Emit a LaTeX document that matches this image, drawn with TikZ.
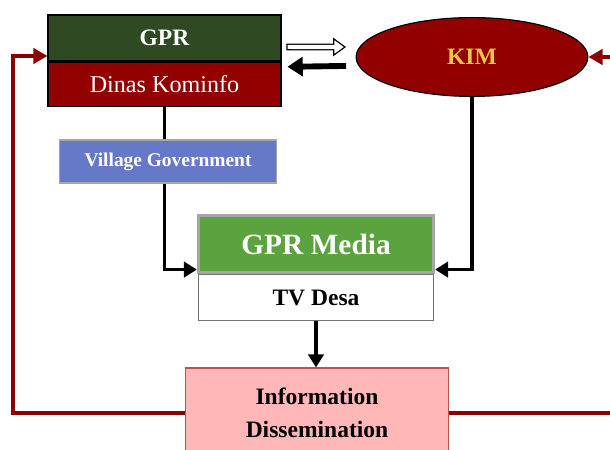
\documentclass[tikz,border=0pt]{standalone}
\usepackage{fontspec}
\setmainfont{Liberation Serif}
\usetikzlibrary{positioning,arrows.meta,shapes.geometric}
\definecolor{gprgreen}{HTML}{2F4A23}
\definecolor{kominfored}{HTML}{920000}
\definecolor{kimgold}{HTML}{F2C14E}
\definecolor{villageblue}{HTML}{6679C9}
\definecolor{mediagreen}{HTML}{5BA33F}
\definecolor{infopink}{HTML}{FFB7B7}
\definecolor{inforim}{HTML}{C0504D}
\definecolor{loopred}{HTML}{8B0000}

\begin{document}
\begin{tikzpicture}[x=0.85pt, y=-0.85pt, >=Stealth,
  box/.style={draw, line width=1pt, inner sep=0pt},
  conn/.style={line width=3pt, -{Triangle[length=11pt,width=13pt]}},
  loop/.style={draw=loopred, line width=3pt, -{Triangle[length=12pt,width=13pt]}}]
  \useasboundingbox (0,0) rectangle (610,450);
  \clip (0,0) rectangle (610,450);

  % top row
  \node[box, fill=gprgreen, text=white, font=\fontsize{20}{24}\selectfont\bfseries,
        minimum width=198pt, minimum height=39pt] (gpr) at (164.5,38) {GPR};
  \node[box, fill=kominfored, text=white, font=\fontsize{20.5}{24}\selectfont,
        minimum width=198pt, minimum height=38pt, below=0pt of gpr] (dinas) {Dinas Kominfo};
  \node[draw, ellipse, line width=1pt, fill=kominfored, text=kimgold, inner sep=0pt,
        font=\fontsize{20}{24}\selectfont\bfseries,
        minimum width=197pt, minimum height=67pt] (kim) at (472,57) {KIM};

  % media block
  \node[box, draw=black!35, line width=2.5pt, fill=mediagreen, text=white,
        font=\fontsize{25}{30}\selectfont\bfseries,
        minimum width=200pt, minimum height=49pt] (media) at (316,244) {GPR Media};
  \node[box, draw=black!55, fill=white, font=\fontsize{20}{24}\selectfont\bfseries,
        minimum width=200pt, minimum height=39pt, below=0pt of media] (tv) {TV Desa};

  \node[box, draw=inforim, fill=infopink, align=center,
        font=\fontsize{20}{28}\selectfont\bfseries,
        minimum width=224pt, minimum height=76.5pt] (info) at (317,413) {Information\\Dissemination};

  % GPR <-> KIM (hollow arrow = black outline + white core)
  \coordinate (hstart) at ([xshift=4pt,yshift=-7.6pt]gpr.east);
  \coordinate (hend) at ([xshift=-8pt,yshift=8.5pt]kim.west);
  \draw[line width=5.7pt, -{Triangle[length=11pt,width=15pt]}] (hstart) -- (hend);
  \draw[white, line width=3.5pt, shorten <=1.1pt, shorten >=1.95pt,
        -{Triangle[length=7.95pt,width=10.8pt]}] (hstart) -- (hend);
  \draw[line width=5pt, -{Triangle[length=13pt,width=16pt]}]
    ([xshift=-8pt,yshift=-7.6pt]kim.west) -- ([xshift=5pt,yshift=15pt]dinas.east);

  % flows into media
  \draw[conn] (dinas.south) |- ([yshift=4pt]media.south west);
  \draw[conn] (kim.south) |- ([yshift=4pt]media.south east);
  \draw[conn] (tv.south) -- (tv.south |- info.north);

  \node[box, draw=black!35, fill=villageblue, text=white,
        font=\fontsize{16.5}{20}\selectfont\bfseries,
        minimum width=184pt, minimum height=36.5pt] (village) at (168,161.5) {Village Government};

  % feedback loop
  \coordinate (lbend) at (13,56);
  \coordinate (rbend) at (630,57);
  \draw[loop] (info.west) -| (lbend) -- (gpr.west |- lbend);
  \draw[loop] (info.east) -| (rbend) -- (kim.east);
\end{tikzpicture}
\end{document}
